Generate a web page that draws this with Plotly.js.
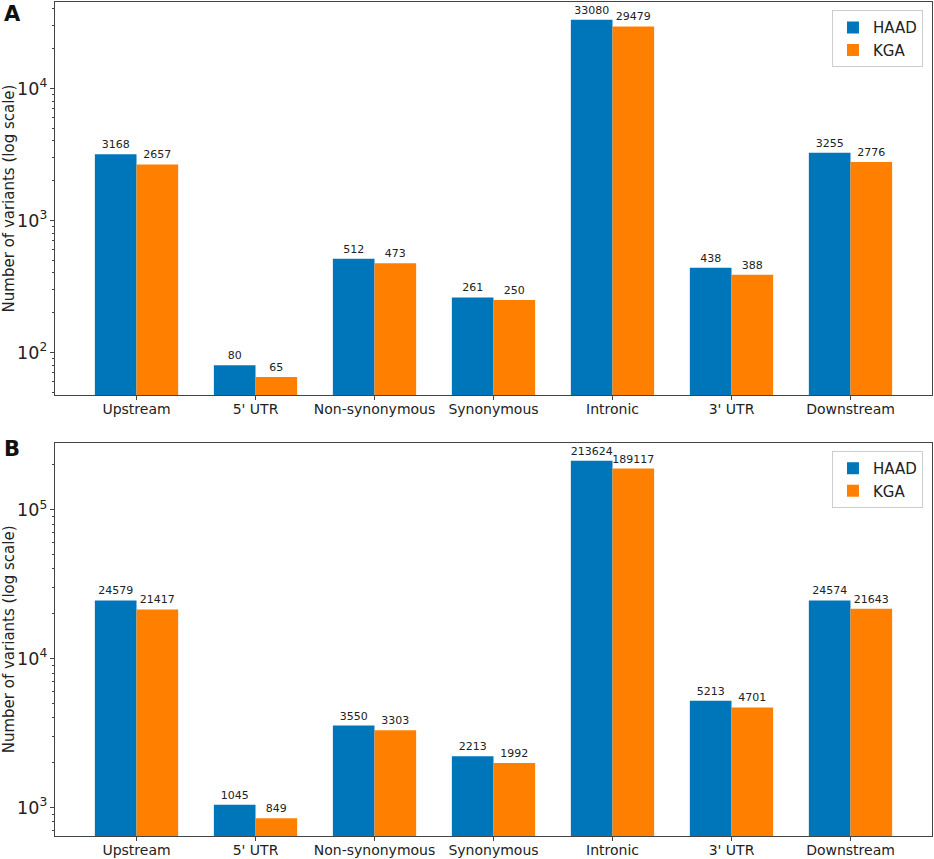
<!DOCTYPE html>
<html>
<head>
<meta charset="utf-8">
<script src="https://cdn.plot.ly/plotly-3.0.1.min.js"></script>
<style>html,body{margin:0;padding:0;background:#fff;}#chart{width:934px;height:859px;}</style>
</head>
<body>
<div id="chart"></div>
<script>
var categories = ["Upstream", "5' UTR", "Non-synonymous", "Synonymous", "Intronic", "3' UTR", "Downstream"];
var haadA = [3168, 80, 512, 261, 33080, 438, 3255];
var kgaA = [2657, 65, 473, 250, 29479, 388, 2776];
var haadB = [24579, 1045, 3550, 2213, 213624, 5213, 24574];
var kgaB = [21417, 849, 3303, 1992, 189117, 4701, 21643];
var seriesNames = ["HAAD", "KGA"];

var blue = "rgb(0,118,186)";
var orange = "rgb(255,128,0)";
var font = "DejaVu Sans, sans-serif";

function bar(y, name, color, xa, ya, leg) {
  return {
    type: "bar", x: categories, y: y, name: name,
    xaxis: xa, yaxis: ya, legend: leg,
    marker: {color: color, line: {width: 0}},
    text: y.map(String), textposition: "outside", constraintext: "none",
    cliponaxis: false,
    textfont: {family: font, size: 11, color: "#222"},
    hoverinfo: "x+y"
  };
}

var data = [
  bar(haadA, seriesNames[0], blue, "x", "y", "legend"),
  bar(kgaA, seriesNames[1], orange, "x", "y", "legend"),
  bar(haadB, seriesNames[0], blue, "x2", "y2", "legend2"),
  bar(kgaB, seriesNames[1], orange, "x2", "y2", "legend2")
];

function xax(anchor) {
  return {
    anchor: anchor, domain: [0, 1], type: "category",
    range: [-0.685, 6.685], showline: true, mirror: true,
    linecolor: "#444", linewidth: 1, ticks: "outside", ticklen: 4,
    tickcolor: "#444", tickfont: {family: font, size: 14, color: "#222"},
    ticklabelstandoff: -3,
    showgrid: false, zeroline: false
  };
}
function yax(anchor, dom, rng) {
  return {
    anchor: anchor, domain: dom, type: "log", range: rng,
    dtick: 1, exponentformat: "power",
    showline: true, mirror: true, linecolor: "#444", linewidth: 1,
    ticks: "outside", ticklen: 4, tickcolor: "#444",
    minor: {ticks: "outside", ticklen: 2, dtick: "D1", tickcolor: "#444", showgrid: false},
    tickfont: {family: font, size: 14, color: "#222"},
    showgrid: false, zeroline: false,
    title: {text: "Number of variants (log scale)", font: {family: font, size: 15, color: "#222"}, standoff: 8}
  };
}

var layout = {
  width: 934, height: 859,
  margin: {l: 55, r: 2, t: 0, b: 0},
  paper_bgcolor: "#fff", plot_bgcolor: "#fff",
  barmode: "group", bargap: 0.3, bargroupgap: 0,
  xaxis: xax("y"),
  yaxis: yax("x", [0.5402, 0.9977], [1.6776, 4.655]),
  xaxis2: xax("y2"),
  yaxis2: yax("x2", [0.0268, 0.4846], [2.809, 5.450]),
  legend: {x: 0.9897, xanchor: "right", y: 0.988, yanchor: "top",
    bordercolor: "#ccc", borderwidth: 1, bgcolor: "rgba(255,255,255,0.8)",
    font: {family: font, size: 15, color: "#222"}},
  legend2: {x: 0.9897, xanchor: "right", y: 0.475, yanchor: "top",
    bordercolor: "#ccc", borderwidth: 1, bgcolor: "rgba(255,255,255,0.8)",
    font: {family: font, size: 15, color: "#222"}},
  annotations: [
    {text: "<b>A</b>", xref: "paper", yref: "paper", x: -0.061, y: 0.984, xanchor: "left", yanchor: "middle", showarrow: false, font: {family: font, size: 21, color: "#111"}},
    {text: "<b>B</b>", xref: "paper", yref: "paper", x: -0.061, y: 0.4772, xanchor: "left", yanchor: "middle", showarrow: false, font: {family: font, size: 21, color: "#111"}}
  ],
  showlegend: true
};

Plotly.newPlot("chart", data, layout, {displayModeBar: false, staticPlot: true});
</script>
</body>
</html>
